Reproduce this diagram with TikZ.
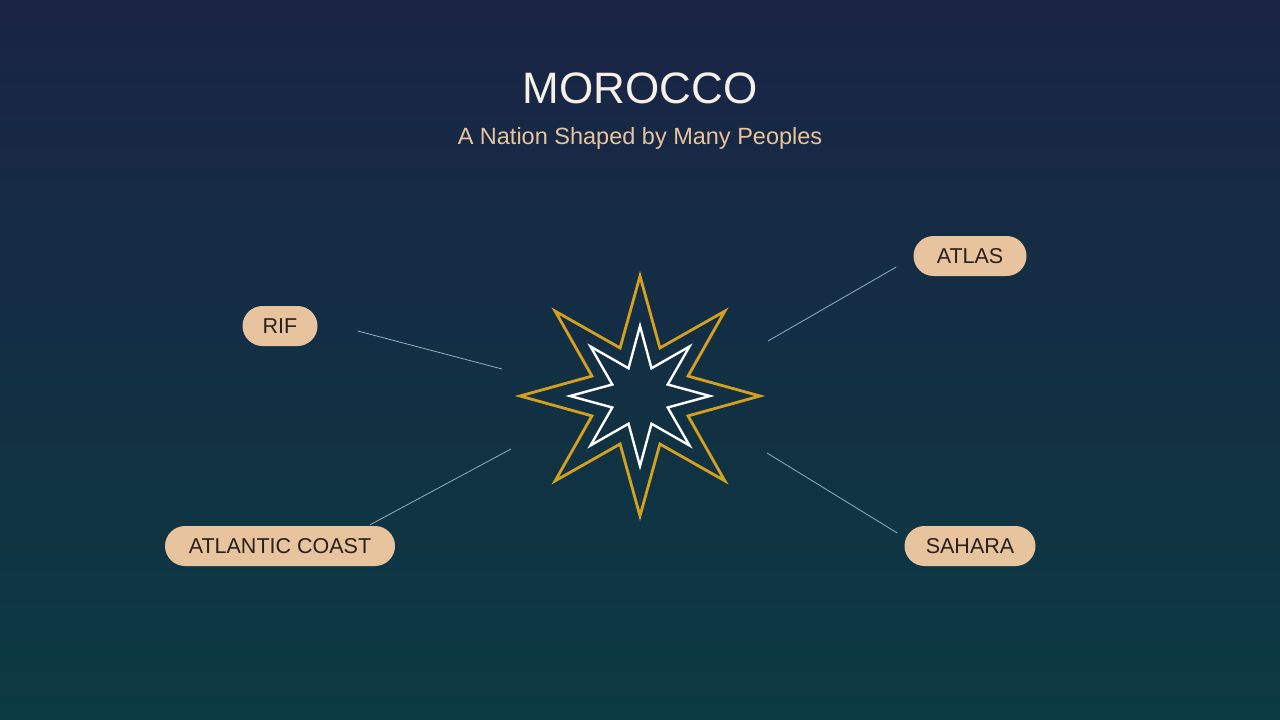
\documentclass[tikz,border=0pt]{standalone}
\usepackage{fontspec}
\setmainfont{Liberation Sans}
\usetikzlibrary{calc}
\definecolor{bgtop}{RGB}{26, 36, 69}
\definecolor{bgbot}{RGB}{11, 58, 66}
\definecolor{gold}{RGB}{212, 160, 30}
\definecolor{sand}{RGB}{232, 196, 158}
\definecolor{ink}{RGB}{40, 32, 28}
\definecolor{cream}{RGB}{246, 240, 230}
\definecolor{link}{RGB}{140, 178, 196}

\begin{document}
\begin{tikzpicture}[x=1pt, y=-1pt, line join=miter,
  pill/.style={fill=sand, text=ink, rounded corners=20pt, minimum height=40pt,
    inner sep=0pt, font=\fontsize{21.5}{26}\selectfont},
  spoke/.style={draw=link, line width=0.8pt}]
  \shade[top color=bgtop, bottom color=bgbot] (0, 0) rectangle (1280, 720);

  \node[text=cream, font=\fontsize{44}{50}\selectfont] (title) at (640, 88) {MOROCCO};
  \node[text=sand, font=\fontsize{23.5}{28}\selectfont] (sub) at (640, 138) {A Nation Shaped by Many Peoples};

  \coordinate (star) at (640, 396);
  \begin{scope}[shift={(star)}]
    \draw[gold, line width=2.8pt] (90:120)
      \foreach \i [evaluate=\i as \r using {86+34*cos(180*\i)}] in {1,...,15} { -- ({90+22.5*\i}:\r) } -- cycle;
    \draw[white, line width=2.4pt] (90:70)
      \foreach \i [evaluate=\i as \r using {50+20*cos(180*\i)}] in {1,...,15} { -- ({90+22.5*\i}:\r) } -- cycle;
  \end{scope}

  \node[pill, minimum width=75pt] (rif) at (280, 326) {RIF};
  \node[pill, minimum width=113pt] (atlas) at (970, 256) {ATLAS};
  \node[pill, minimum width=230pt] (coast) at (280, 546) {ATLANTIC COAST};
  \node[pill, minimum width=131pt] (sahara) at (970, 546) {SAHARA};

  \draw[spoke] ($(rif.east)+(40, 5)$) -- ($(star)+(-138, -27)$);
  \draw[spoke] ($(atlas.west)+(-17, 11)$) -- ($(star)+(128, -55)$);
  \draw[spoke] ($(coast.north)+(90, -1)$) -- ($(star)+(-129, 53)$);
  \draw[spoke] ($(sahara.west)+(-7, -13)$) -- ($(star)+(127, 57)$);
\end{tikzpicture}
\end{document}
